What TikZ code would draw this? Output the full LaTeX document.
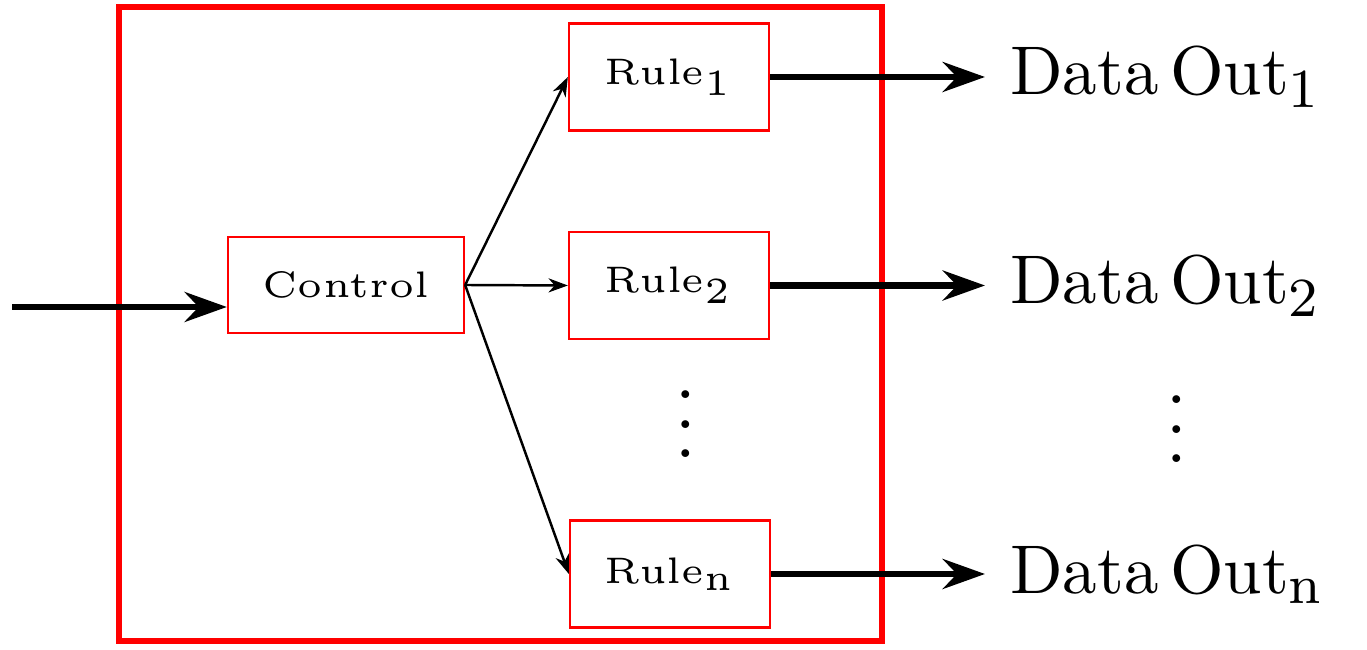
\documentclass[tikz,border=0pt]{standalone}
\usepackage{graphicx}
\usetikzlibrary{arrows.meta,positioning}
\newcommand{\blowup}[1]{\scalebox{4.2}{\tiny #1}}
\newcommand{\outtext}[1]{\scalebox{3.92}{Data\,Out\textsubscript{\footnotesize #1}}}
\begin{document}
\begin{tikzpicture}[
  box/.style={draw=red,line width=1.3pt,minimum width=4cm,minimum height=2.14cm,inner sep=0pt},
  fatarrow/.style={line width=3.8pt,-{Stealth[length=24pt,width=17pt,inset=8pt]}},
  thinarrow/.style={line width=1.4pt,-{Stealth[length=11pt,width=8pt,inset=3.5pt]}},
  outlabel/.style={anchor=west,inner xsep=0.5cm}]
\useasboundingbox (0,0) rectangle (27.34,13);
\draw[red,line width=3.4pt] (2.38,0.18) rectangle (17.64,12.86);
\node[box,minimum width=4.72cm,minimum height=1.92cm] (ctrl) at (6.92,7.3) {\blowup{Control}};
\node[box] (r1) at (13.38,11.46) {\blowup{Rule$_1$}};
\node[box] (r2) at (13.38,7.29) {\blowup{Rule$_2$}};
\node[box] (rn) at (13.4,1.52) {\blowup{Rule$_\mathrm{n}$}};
\node (d1) at (13.72,4.96) {\scalebox{4.2}{$\vdots$}};
\node (d2) at (23.54,4.86) {\scalebox{4.2}{$\vdots$}};
\coordinate (in) at (0.24,6.86);
\draw[fatarrow] (in) -- (in -| ctrl.west);
\foreach \r in {r1,r2,rn} \draw[thinarrow] (ctrl.east) -- (\r.west);
\node[outlabel] (o1) at (19.7,11.46) {\outtext{1}};
\node[outlabel] (o2) at (19.7,7.29) {\outtext{2}};
\node[outlabel] (on) at (19.7,1.52) {\outtext{n}};
\draw[fatarrow] (r1.east) -- (o1.west);
\draw[fatarrow] (r2.east) -- (o2.west);
\draw[fatarrow] (rn.east) -- (on.west);
\end{tikzpicture}
\end{document}
